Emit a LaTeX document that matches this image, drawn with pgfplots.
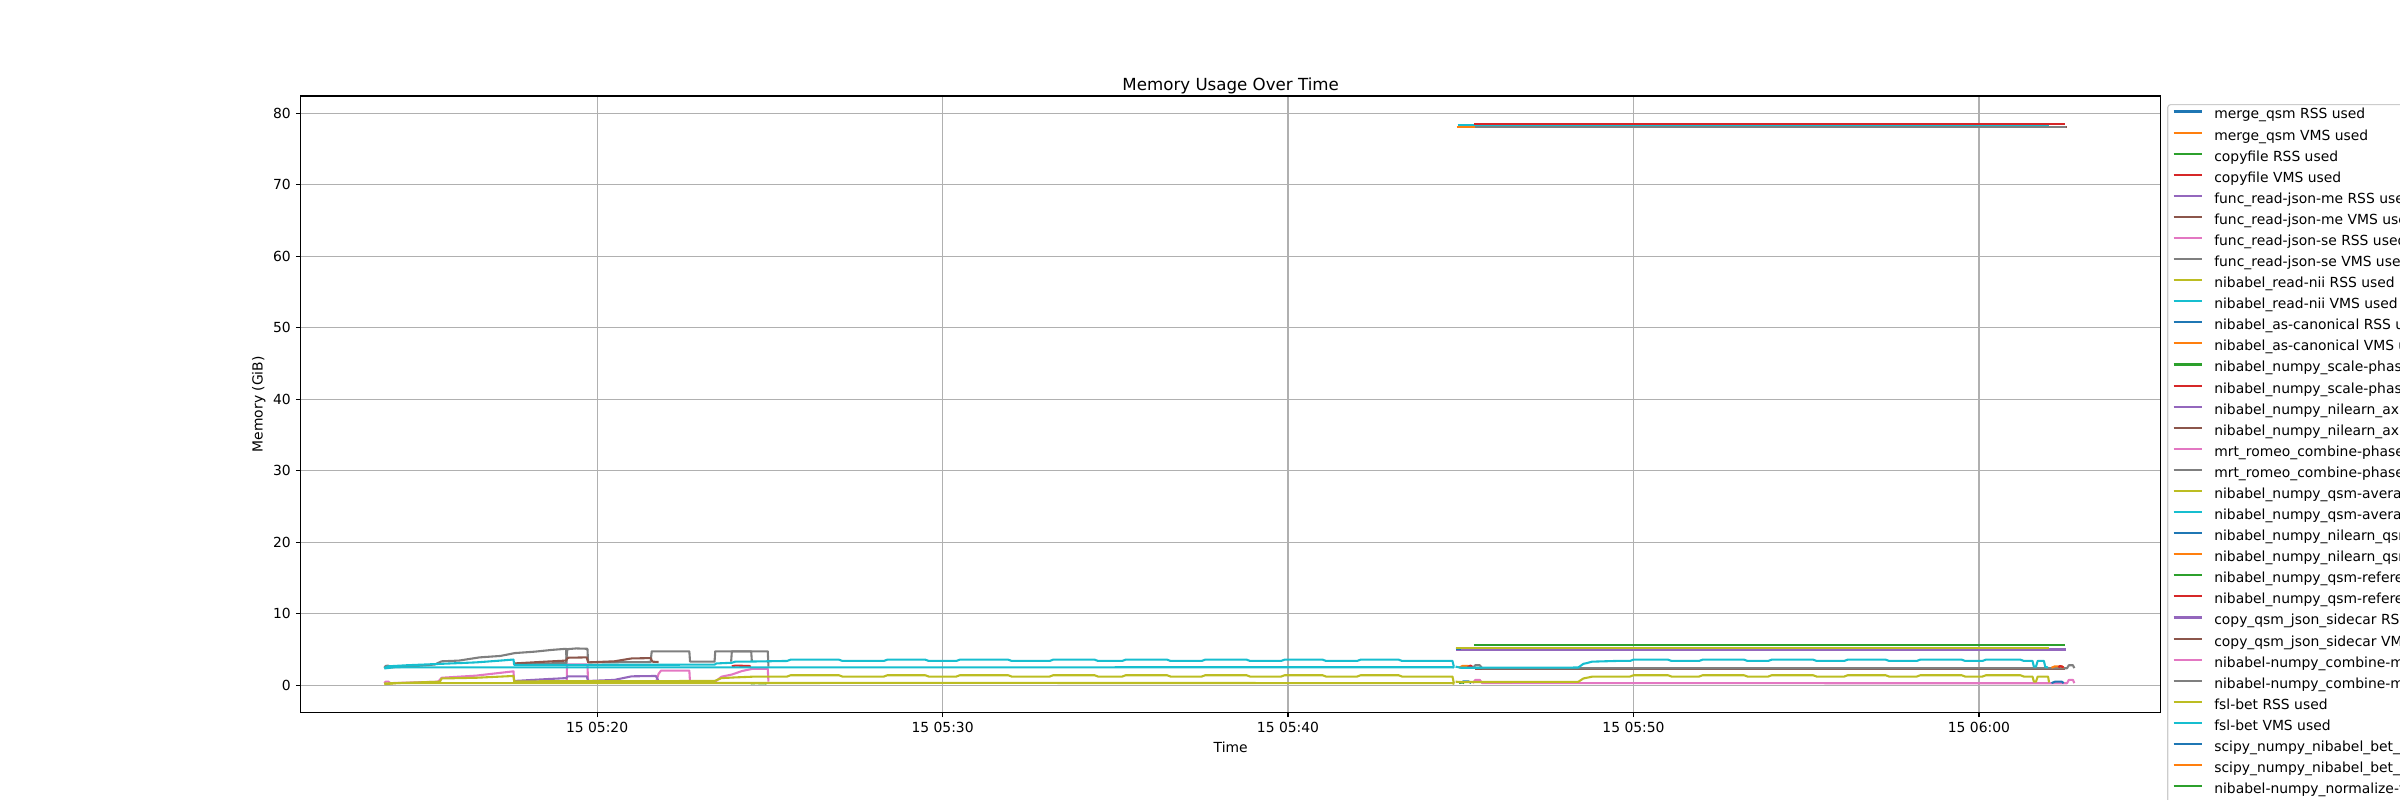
\documentclass[border=0pt]{standalone}
\usepackage{fontspec}
\setmainfont{DejaVu Sans}
\usepackage{pgfplots}
\pgfplotsset{compat=1.18}

\definecolor{c0}{HTML}{1F77B4}
\definecolor{c1}{HTML}{FF7F0E}
\definecolor{c2}{HTML}{2CA02C}
\definecolor{c3}{HTML}{D62728}
\definecolor{c4}{HTML}{9467BD}
\definecolor{c5}{HTML}{8C564B}
\definecolor{c6}{HTML}{E377C2}
\definecolor{c7}{HTML}{7F7F7F}
\definecolor{c8}{HTML}{BCBD22}
\definecolor{c9}{HTML}{17BECF}
\definecolor{gridgray}{HTML}{B0B0B0}
\definecolor{legendedge}{HTML}{CCCCCC}

\begin{document}
\begin{tikzpicture}[font=\fontsize{10bp}{12bp}\selectfont]
\useasboundingbox (0,0) rectangle (1728bp,576bp);
\clip (0,0) rectangle (1728bp,576bp);
\begin{axis}[
    at={(216.5bp,63.14bp)}, anchor=south west,
    scale only axis, width=1339.2bp, height=443.7bp,
    xmin=11.42, xmax=65.26, ymin=-3.78, ymax=82.38,
    xtick={20,30,40,50,60},
    xticklabels={15 05:20,15 05:30,15 05:40,15 05:50,15 06:00},
    ytick={0,10,...,80},
    tick pos=left, tick align=outside, major tick length=3.5bp,
    every tick/.style={black, line width=0.8bp},
    axis line style={line width=0.8bp},
    grid=major, major grid style={color=gridgray, line width=0.8bp},
    /pgf/number format/assume math mode=true,
    tick label style={font=\fontsize{10bp}{12bp}\selectfont},
    label style={font=\fontsize{10bp}{12bp}\selectfont},
    xticklabel style={inner sep=0pt, anchor=north, yshift=-3.5bp},
    yticklabel style={inner sep=0pt, anchor=east, xshift=-3.5bp},
    title=Memory Usage Over Time,
    title style={at={([yshift=-2bp]axis description cs:0.5,1)}, anchor=base,
      inner sep=0pt, font=\fontsize{12bp}{14bp}\selectfont},
    xlabel=Time, ylabel=Memory (GiB),
    every axis x label/.style={at={([yshift=-25.2bp]axis description cs:0.5,0)}, anchor=center, inner sep=0pt},
    every axis y label/.style={at={([xshift=-30.2bp]axis description cs:0,0.5)}, rotate=90, anchor=center, inner sep=0pt},
    every axis plot/.append style={line width=1.5bp, line join=round},
    legend cell align=left,
    legend image code/.code={\draw[#1] (0bp,2.9bp) -- (20.7bp,2.9bp); \path (28.6bp,0bp);},
    legend style={at={([xshift=4.7bp,yshift=-5.8bp]axis description cs:1,1)}, anchor=north west,
      draw=legendedge, line width=0.8bp, rounded corners=2bp, fill=white,
      inner xsep=3.4bp, inner ysep=2.7bp, row sep=4.98bp,
      nodes={inner sep=0pt, text height=7.6bp, text depth=2.6bp},
      font=\fontsize{10bp}{12bp}\selectfont},
]

% ---- first stage, 05:13 to 05:25
\addplot[c7, forget plot] coordinates {(13.84,2.45)(13.88,2.7)(13.95,2.75)(14.02,2.5)(14.5,2.6)(15.3,2.9)(15.5,3.35)(16.0,3.45)(16.6,3.9)(17.2,4.1)(17.62,4.5)(18.2,4.7)(18.7,4.95)(19.10,5.1)(19.12,3.0)};
\addplot[c7, forget plot] coordinates {(17.6,3.0)(19.1,3.1)(19.14,5.05)(19.4,5.15)(19.72,5.1)(19.74,3.2)(21.55,3.25)(21.58,4.75)(22.67,4.75)(22.69,3.3)(23.40,3.3)(23.42,4.75)(24.94,4.75)(24.96,2.6)};
\addplot[c7, forget plot] coordinates {(23.88,3.3)(23.9,4.75)(24.46,4.75)(24.48,3.3)};
\addplot[c5, forget plot] coordinates {(17.6,3.05)(18.5,3.3)(19.1,3.45)(19.15,3.85)(19.7,3.9)(19.74,3.2)(20.5,3.35)(21.0,3.75)(21.55,3.8)(21.6,3.3)(21.78,3.25)};
\addplot[c6, forget plot] coordinates {(13.84,0.3)(13.88,0.5)(13.96,0.5)(14.02,0.3)(15.4,0.5)(15.5,1.05)(16.5,1.35)(17.4,1.85)(17.58,1.95)(17.6,0.4)};
\addplot[c6, forget plot] coordinates {(19.12,0.35)(19.13,2.9)(19.72,2.9)(19.74,0.35)};
\addplot[c6, forget plot] coordinates {(21.7,0.4)(21.78,1.6)(21.85,2.05)(22.67,2.05)(22.69,0.4)};
\addplot[c6, forget plot] coordinates {(23.42,0.5)(23.6,1.2)(23.9,1.5)(24.2,2.0)(24.5,2.3)(24.94,2.3)(24.96,0.5)};
\addplot[c4, forget plot] coordinates {(17.6,0.6)(18.5,0.85)(19.1,1.0)(19.15,1.25)(19.7,1.25)(19.74,0.6)(20.5,0.75)(21.0,1.25)(21.7,1.3)(21.78,0.6)};
\addplot[c3, forget plot] coordinates {(23.9,2.65)(24.0,2.75)(24.4,2.7)(24.45,2.6)};
\addplot[c2, forget plot] coordinates {(24.45,0.25)(24.6,0.3)(24.9,0.25)};
\addplot[c9, forget plot] coordinates {(13.84,2.4)(13.95,2.65)(14.5,2.8)(15.5,3.0)(16.5,3.2)(17.2,3.45)(17.58,3.6)(17.6,2.8)};

% ---- long runs, 05:13 to 05:45
\addplot[c8, forget plot] coordinates {(13.84,0.15)(14.2,0.3)(30,0.33)(44.78,0.3)(44.8,0.1)};
\addplot[c8, forget plot] coordinates {(13.84,0.25)(15.45,0.5)(15.5,0.95)(16.5,1.05)(17.58,1.3)(17.6,0.55)(23.40,0.6)(23.6,1.0)(24.0,1.1)(24.5,1.2)(25.5,1.22)
  (25.6,1.4)(27.0,1.4)(27.1,1.22)(28.3,1.22)(28.4,1.4)(29.5,1.4)(29.6,1.22)(30.4,1.22)(30.5,1.4)(31.9,1.4)(32.0,1.22)
  (33.1,1.22)(33.2,1.4)(34.4,1.4)(34.5,1.22)(35.2,1.22)(35.3,1.4)(36.5,1.4)(36.6,1.22)(37.5,1.22)(37.6,1.4)(38.8,1.4)(38.9,1.22)
  (39.8,1.22)(39.9,1.4)(41.0,1.4)(41.1,1.22)(42.0,1.22)(42.1,1.4)(43.2,1.4)(43.3,1.22)(44.76,1.22)(44.8,0.3)};
\addplot[c9, forget plot] coordinates {(13.84,2.35)(14.1,2.5)(44.78,2.52)(44.8,2.4)};
\addplot[c9, forget plot] coordinates {(17.6,2.85)(23.40,2.88)(23.45,3.05)(23.9,3.15)(24.0,3.3)(24.5,3.32)(25.5,3.4)
  (25.6,3.58)(27.0,3.58)(27.1,3.4)(28.3,3.4)(28.4,3.58)(29.5,3.58)(29.6,3.4)(30.4,3.4)(30.5,3.58)(31.9,3.58)(32.0,3.4)
  (33.1,3.4)(33.2,3.58)(34.4,3.58)(34.5,3.4)(35.2,3.4)(35.3,3.58)(36.5,3.58)(36.6,3.4)(37.5,3.4)(37.6,3.58)(38.8,3.58)(38.9,3.4)
  (39.8,3.4)(39.9,3.58)(41.0,3.58)(41.1,3.4)(42.0,3.4)(42.1,3.58)(43.2,3.58)(43.3,3.4)(44.76,3.4)(44.8,2.6)};

% ---- second stage, 05:45 to 06:03
\addplot[c1, forget plot] coordinates {(44.95,2.45)(45.05,2.7)(45.2,2.72)(45.28,2.5)};
\addplot[c3, forget plot] coordinates {(45.2,2.5)(45.28,2.75)(45.35,2.55)};
\addplot[c5, forget plot] coordinates {(45.4,2.33)(62.5,2.33)};
\addplot[c7, forget plot] coordinates {(45.35,2.4)(45.42,2.8)(45.55,2.8)(45.62,2.38)(62.55,2.38)(62.6,2.8)(62.72,2.8)(62.76,2.4)};
\addplot[c0, forget plot] coordinates {(44.98,0.3)(45.08,0.55)(45.22,0.55)(45.3,0.3)};
\addplot[c2, forget plot] coordinates {(44.95,0.3)(45.02,0.45)(45.1,0.3)};
\addplot[c6, forget plot] coordinates {(45.35,0.3)(45.42,0.75)(45.55,0.75)(45.62,0.3)(62.55,0.28)(62.6,0.75)(62.72,0.75)(62.76,0.3)};
\addplot[c1, forget plot] coordinates {(62.1,2.45)(62.2,2.65)(62.4,2.65)(62.45,2.45)};
\addplot[c3, forget plot] coordinates {(62.3,2.5)(62.35,2.7)(62.45,2.5)};
\addplot[c0, forget plot] coordinates {(62.1,0.3)(62.2,0.5)(62.4,0.5)(62.45,0.3)};
\addplot[c8, forget plot] coordinates {(44.85,0.5)(45.0,0.45)(48.4,0.48)(48.55,0.95)(48.8,1.2)(49.5,1.22)
  (49.9,1.22)(50.0,1.4)(51.0,1.4)(51.1,1.22)(51.9,1.22)(52.0,1.4)(53.2,1.4)(53.3,1.22)(53.9,1.22)(54.0,1.4)(55.2,1.4)(55.3,1.22)
  (56.1,1.22)(56.2,1.4)(57.3,1.4)(57.4,1.22)(58.2,1.22)(58.3,1.4)(59.5,1.4)(59.6,1.22)(60.1,1.22)(60.2,1.4)(61.2,1.4)(61.3,1.22)
  (61.55,1.22)(61.59,0.5)(61.65,0.5)(61.7,1.22)(62.0,1.22)(62.03,0.4)};
\addplot[c9, forget plot] coordinates {(44.85,2.6)(45.0,2.45)(48.4,2.48)(48.55,3.0)(48.65,3.1)(48.8,3.3)(49.5,3.4)
  (49.9,3.4)(50.0,3.58)(51.0,3.58)(51.1,3.4)(51.9,3.4)(52.0,3.58)(53.2,3.58)(53.3,3.4)(53.9,3.4)(54.0,3.58)(55.2,3.58)(55.3,3.4)
  (56.1,3.4)(56.2,3.58)(57.3,3.58)(57.4,3.4)(58.2,3.4)(58.3,3.58)(59.5,3.58)(59.6,3.4)(60.1,3.4)(60.2,3.58)(61.2,3.58)(61.3,3.4)
  (61.55,3.4)(61.59,2.6)(61.65,2.6)(61.7,3.4)(61.88,3.4)(61.92,2.55)(62.0,2.5)};
\addplot[c4, forget plot] coordinates {(44.85,5.0)(62.52,5.0)};
\addplot[c0, forget plot] coordinates {(44.85,5.1)(45.0,5.1)};
\addplot[c8, forget plot] coordinates {(44.85,5.2)(62.03,5.2)};
\addplot[c2, forget plot] coordinates {(45.38,5.57)(62.48,5.57)};
\addplot[c1, forget plot] coordinates {(44.88,78.0)(62.04,78.0)};
\addplot[c5, forget plot] coordinates {(45.42,78.02)(62.55,78.02)};
\addplot[c7, forget plot] coordinates {(45.42,78.1)(62.52,78.1)};
\addplot[c9, forget plot] coordinates {(44.91,78.27)(62.04,78.27)};
\addplot[c3, forget plot] coordinates {(45.39,78.5)(62.48,78.5)};

% ---- legend
\addlegendimage{c0}\addlegendentry{merge\_qsm RSS used}
\addlegendimage{c1}\addlegendentry{merge\_qsm VMS used}
\addlegendimage{c2}\addlegendentry{copyfile RSS used}
\addlegendimage{c3}\addlegendentry{copyfile VMS used}
\addlegendimage{c4}\addlegendentry{func\_read-json-me RSS used}
\addlegendimage{c5}\addlegendentry{func\_read-json-me VMS used}
\addlegendimage{c6}\addlegendentry{func\_read-json-se RSS used}
\addlegendimage{c7}\addlegendentry{func\_read-json-se VMS used}
\addlegendimage{c8}\addlegendentry{nibabel\_read-nii RSS used}
\addlegendimage{c9}\addlegendentry{nibabel\_read-nii VMS used}
\addlegendimage{c0}\addlegendentry{nibabel\_as-canonical RSS used}
\addlegendimage{c1}\addlegendentry{nibabel\_as-canonical VMS used}
\addlegendimage{c2}\addlegendentry{nibabel\_numpy\_scale-phase RSS used}
\addlegendimage{c3}\addlegendentry{nibabel\_numpy\_scale-phase VMS used}
\addlegendimage{c4}\addlegendentry{nibabel\_numpy\_nilearn\_axis RSS used}
\addlegendimage{c5}\addlegendentry{nibabel\_numpy\_nilearn\_axis VMS used}
\addlegendimage{c6}\addlegendentry{mrt\_romeo\_combine-phase RSS used}
\addlegendimage{c7}\addlegendentry{mrt\_romeo\_combine-phase VMS used}
\addlegendimage{c8}\addlegendentry{nibabel\_numpy\_qsm-average RSS used}
\addlegendimage{c9}\addlegendentry{nibabel\_numpy\_qsm-average VMS used}
\addlegendimage{c0}\addlegendentry{nibabel\_numpy\_nilearn\_qsm RSS used}
\addlegendimage{c1}\addlegendentry{nibabel\_numpy\_nilearn\_qsm VMS used}
\addlegendimage{c2}\addlegendentry{nibabel\_numpy\_qsm-reference RSS used}
\addlegendimage{c3}\addlegendentry{nibabel\_numpy\_qsm-reference VMS used}
\addlegendimage{c4}\addlegendentry{copy\_qsm\_json\_sidecar RSS used}
\addlegendimage{c5}\addlegendentry{copy\_qsm\_json\_sidecar VMS used}
\addlegendimage{c6}\addlegendentry{nibabel-numpy\_combine-mag RSS used}
\addlegendimage{c7}\addlegendentry{nibabel-numpy\_combine-mag VMS used}
\addlegendimage{c8}\addlegendentry{fsl-bet RSS used}
\addlegendimage{c9}\addlegendentry{fsl-bet VMS used}
\addlegendimage{c0}\addlegendentry{scipy\_numpy\_nibabel\_bet\_erode RSS used}
\addlegendimage{c1}\addlegendentry{scipy\_numpy\_nibabel\_bet\_erode VMS used}
\addlegendimage{c2}\addlegendentry{nibabel-numpy\_normalize-field RSS used}
\addlegendimage{c3}\addlegendentry{nibabel-numpy\_normalize-field VMS used}
\end{axis}
\end{tikzpicture}
\end{document}
